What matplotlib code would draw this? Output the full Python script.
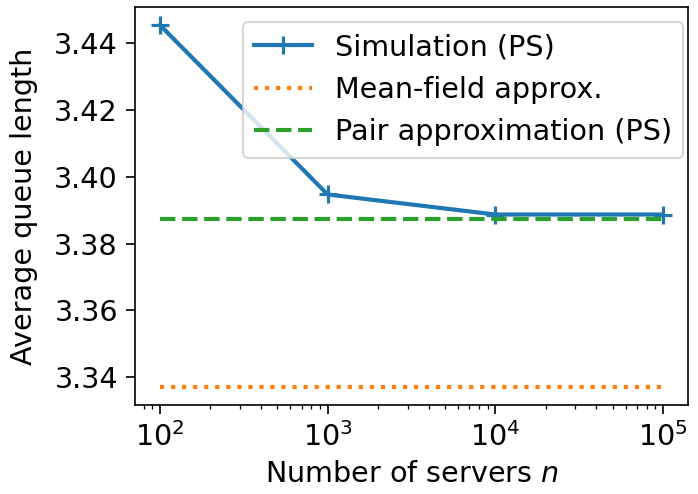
import matplotlib
matplotlib.use('Agg')
import matplotlib.pyplot as plt
import numpy as np

n_servers = [1e2, 1e3, 1e4, 1e5]
sim_ps = [3.4454, 3.3947, 3.3887, 3.3887]
mean_field = 3.3371
pair_ps = 3.3875

plt.rcParams['font.size'] = 13.75
plt.rcParams['xtick.major.size'] = 4.5
plt.rcParams['ytick.major.size'] = 4.5

fig = plt.figure(figsize=(698 / 150, 494 / 150), dpi=150)
ax = fig.add_subplot(111)
fig.subplots_adjust(left=0.193, right=0.986, top=0.986, bottom=0.180)

ax.plot(n_servers, sim_ps, '-+', lw=2, ms=9, mew=1.5, label='Simulation (PS)')
ax.plot(n_servers, [mean_field] * len(n_servers), ':', lw=2, label='Mean-field approx.')
ax.plot(n_servers, [pair_ps] * len(n_servers), '--', lw=2, label='Pair approximation (PS)')
ax.set_xscale('log')
ax.set_xlabel('Number of servers $n$')
ax.set_ylabel('Average queue length', labelpad=8)
ax.set_yticks([3.34, 3.36, 3.38, 3.40, 3.42, 3.44])
ax.legend(loc='upper right', bbox_to_anchor=(0.991, 0.962), borderaxespad=0)

fig.savefig('out.png', dpi=150)
